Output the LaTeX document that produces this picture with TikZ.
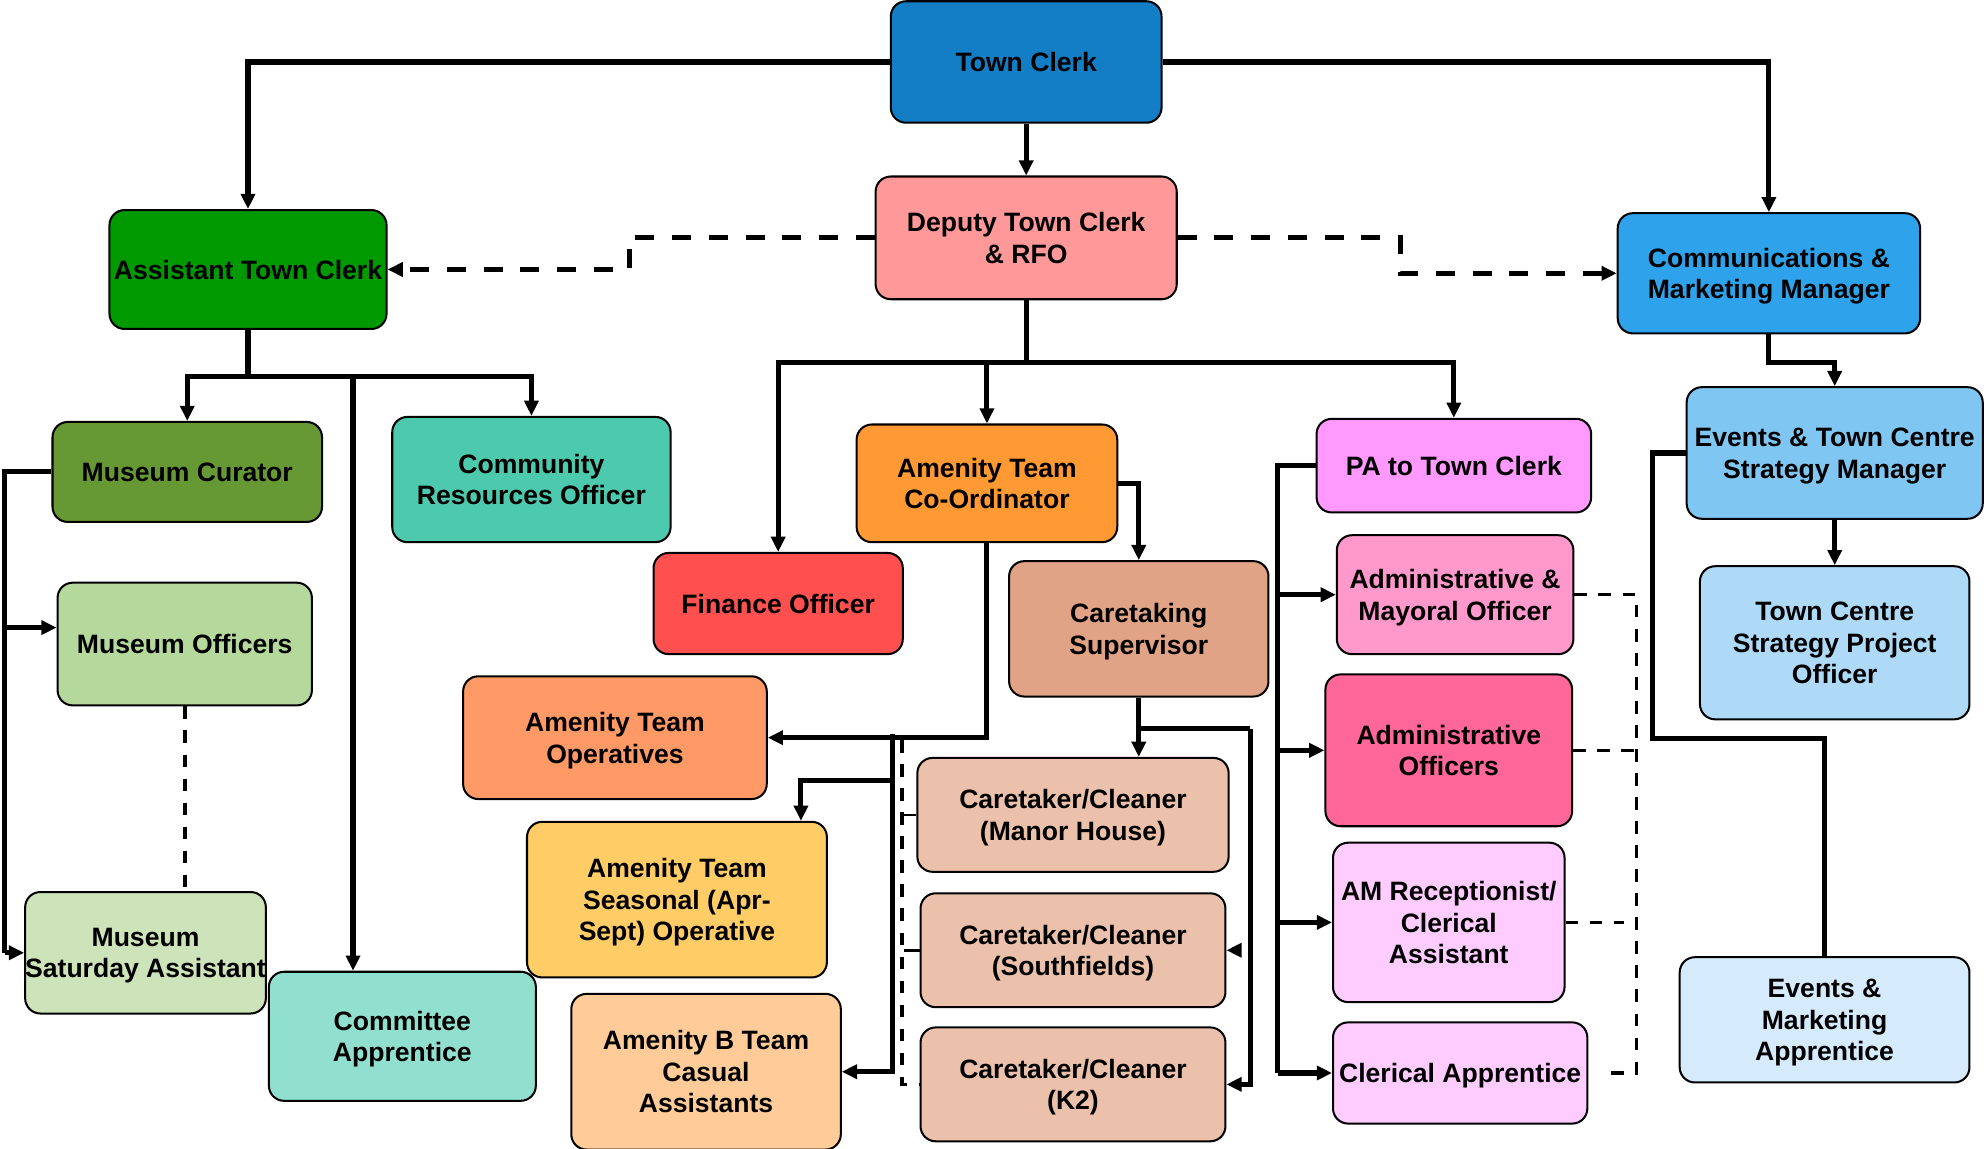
\documentclass[tikz,border=0pt]{standalone}
\usepackage{fontspec}
\setmainfont{Liberation Sans}
\usetikzlibrary{arrows.meta}
\definecolor{tcblue}{HTML}{137DC5}
\definecolor{dtcpink}{HTML}{FF9999}
\definecolor{atcgreen}{HTML}{009900}
\definecolor{cmmblue}{HTML}{2EA2EA}
\definecolor{mcgreen}{HTML}{669933}
\definecolor{crogreen}{HTML}{4DC9AD}
\definecolor{mogreen}{HTML}{B5D99C}
\definecolor{msagreen}{HTML}{CDE3B9}
\definecolor{capgreen}{HTML}{91DFCE}
\definecolor{atcoorange}{HTML}{FF9933}
\definecolor{fored}{HTML}{FF5050}
\definecolor{csbrown}{HTML}{E0A386}
\definecolor{atoorange}{HTML}{FF9966}
\definecolor{seayellow}{HTML}{FFCC66}
\definecolor{btpeach}{HTML}{FFCC99}
\definecolor{ctbeige}{HTML}{EBC1AB}
\definecolor{pamagenta}{HTML}{FF99FF}
\definecolor{amopink}{HTML}{FF99CC}
\definecolor{aopink}{HTML}{FF6699}
\definecolor{lilac}{HTML}{FFCCFF}
\definecolor{etblue}{HTML}{80C6F2}
\definecolor{tcsblue}{HTML}{AEDAF7}
\definecolor{emablue}{HTML}{D5EBFB}
\begin{document}
\begin{tikzpicture}[x=0.5pt,y=-0.5pt,
    box/.style={draw,rounded corners=6pt,line width=0.8pt,align=center,inner sep=0pt,
      text depth=0pt,font=\bfseries\fontsize{10.5}{12.5}\selectfont},
    >={Triangle[length=6pt,width=5.5pt]},
    link/.style={line width=2pt},
    dashlink/.style={line width=2pt,dash pattern=on 7.5pt off 7pt},
    thindash/.style={line width=1.4pt,dash pattern=on 5pt off 4.5pt}]
  \useasboundingbox (0,0) rectangle (1568,908);
  \draw
    (811,49) node[box,fill=tcblue,minimum width=107pt,minimum height=48pt] (tc){Town Clerk}
    (811,188) node[box,fill=dtcpink,minimum width=119pt,minimum height=48.5pt] (dtc){Deputy Town Clerk\\ \& RFO}
    (196,213) node[box,fill=atcgreen,minimum width=109.5pt,minimum height=47pt] (atc){Assistant Town Clerk}
    (1398,216) node[box,fill=cmmblue,minimum width=119.5pt,minimum height=47.5pt] (cmm){Communications \&\\Marketing Manager}
    (148,373) node[box,fill=mcgreen,minimum width=106.5pt,minimum height=39.5pt] (mc){Museum Curator}
    (420,379) node[box,fill=crogreen,minimum width=110pt,minimum height=49.5pt] (cro){Community\\Resources Officer}
    (146,509) node[box,fill=mogreen,minimum width=100.5pt,minimum height=48.5pt] (mo){Museum Officers}
    (115,753) node[box,fill=msagreen,minimum width=94pt,minimum height=48pt] (msa){Museum\\Saturday Assistant}
    (318,819) node[box,fill=capgreen,minimum width=105.5pt,minimum height=51pt] (cap){Committee\\Apprentice}
    (780,382) node[box,fill=atcoorange,minimum width=103pt,minimum height=46.5pt] (atco){Amenity Team\\Co-Ordinator}
    (615,477) node[box,fill=fored,minimum width=98.5pt,minimum height=40pt] (fo){Finance Officer}
    (900,497) node[box,fill=csbrown,minimum width=102.5pt,minimum height=53.5pt] (cs){Caretaking\\Supervisor}
    (486,583) node[box,fill=atoorange,minimum width=120pt,minimum height=48.5pt] (ato){Amenity Team\\Operatives}
    (535,711) node[box,fill=seayellow,minimum width=118.5pt,minimum height=61.5pt] (sea){Amenity Team\\Seasonal (Apr-\\Sept) Operative}
    (558,847) node[box,fill=btpeach,minimum width=106.5pt,minimum height=61.5pt] (bt){Amenity B Team\\Casual\\Assistants}
    (848,644) node[box,fill=ctbeige,minimum width=123pt,minimum height=45pt] (cmh){Caretaker/Cleaner\\(Manor House)}
    (848,751) node[box,fill=ctbeige,minimum width=120.5pt,minimum height=45pt] (csf){Caretaker/Cleaner\\(Southfields)}
    (848,857) node[box,fill=ctbeige,minimum width=120.5pt,minimum height=45pt] (ck2){Caretaker/Cleaner\\(K2)}
    (1149,368) node[box,fill=pamagenta,minimum width=108.5pt,minimum height=37pt] (pa){PA to Town Clerk}
    (1150,470) node[box,fill=amopink,minimum width=93.5pt,minimum height=47pt] (amo){Administrative \&\\Mayoral Officer}
    (1145,593) node[box,fill=aopink,minimum width=97.5pt,minimum height=60pt] (ao){Administrative\\Officers}
    (1145,729) node[box,fill=lilac,minimum width=91.5pt,minimum height=63pt] (amr){AM Receptionist/\\Clerical\\Assistant}
    (1154,848) node[box,fill=lilac,minimum width=100.5pt,minimum height=40pt] (ca){Clerical Apprentice}
    (1450,358) node[box,fill=etblue,minimum width=117pt,minimum height=52pt] (etm){Events \& Town Centre\\Strategy Manager}
    (1450,508) node[box,fill=tcsblue,minimum width=106.5pt,minimum height=60.5pt] (tcs){Town Centre\\Strategy Project\\Officer}
    (1442,806) node[box,fill=emablue,minimum width=114.5pt,minimum height=49.5pt] (ema){Events \&\\Marketing\\Apprentice};
  \begin{scope}[link]
    % town clerk
    \draw[->] (tc.west) -| (atc.north);
    \draw[->] (tc.south) -- (dtc.north);
    \draw[->] (tc.east) -| (cmm.north);
    \draw[dashlink,->] (dtc.west) -- ++(-194,0) |- (atc.east);
    \draw[dashlink,->] (dtc.east) -- ++(176,0) |- (cmm.west);
    % assistant town clerk
    \draw (atc.south) -- ++(0,37) coordinate (abar);
    \draw[->] (abar) -| (mc.north);
    \draw[->] (abar) -| (cro.north);
    \draw[->] (abar -| 279,0) -- ([xshift=-19.5pt]cap.north);
    \draw (mc.west) -- ++(-37,0) coordinate (mcl) -- (mcl |- msa.west);
    \draw[->] (mcl |- 0,496) -- ([yshift=6.5pt]mo.west);
    \draw[->] (mcl |- msa.west) -- (msa.west);
    \draw[thindash] (mo.south) -- (mo.south |- msa.north);
    % deputy town clerk
    \draw (dtc.south) -- ++(0,49) coordinate (dbar);
    \draw[->] (dbar) -| (fo.north);
    \draw[->] (dbar) -| (atco.north);
    \draw[->] (dbar) -| (pa.north);
    % amenity team
    \draw[->] (atco.east) -| (cs.north);
    \draw[->] (atco.south) |- (ato.east);
    \coordinate (opl) at (705,580);
    \draw[->] (opl) |- (bt.east);
    \draw[->] (opl |- 0,617) -| ([xshift=49pt]sea.north);
    \draw[->] (cs.south) -- (cs.south |- cmh.north);
    \draw (cs.south |- 0,576) -- ++(88,0) coordinate (csr);
    \draw[->] (csr) |- (ck2.east);
    \coordinate (sfstub) at (980,751);
    \draw[->] (sfstub) -- (csf.east);
    \draw[thindash] (713,585) |- (ck2.west);
    \draw[line width=1pt] (cmh.west) -- ++(-12,0);
    \draw[line width=1pt] (csf.west) -- ++(-12,0);
    % pa to town clerk
    \draw (pa.west) -- ++(-30,0) coordinate (pal) -- (pal |- ca.west);
    \draw[->] (pal |- amo.west) -- (amo.west);
    \draw[->] (pal |- ao.west) -- (ao.west);
    \draw[->] (pal |- amr.west) -- (amr.west);
    \draw[->] (pal |- ca.west) -- (ca.west);
    \draw[thindash] (amo.east) -- ++(49,0) coordinate (adr) |- ([xshift=5pt]ca.east);
    \draw[thindash] (ao.east) -- (ao.east -| adr);
    \draw[thindash] (amr.east) -- ([xshift=-5pt]amr.east -| adr);
    % communications
    \draw[->] (cmm.south) -- ++(0,22) -| (etm.north);
    \draw[->] (etm.south) -- (tcs.north);
    \draw (etm.west) -- ++(-26,0) coordinate (etl) -- (etl |- 0,584) -| (ema.north);
  \end{scope}
\end{tikzpicture}
\end{document}
